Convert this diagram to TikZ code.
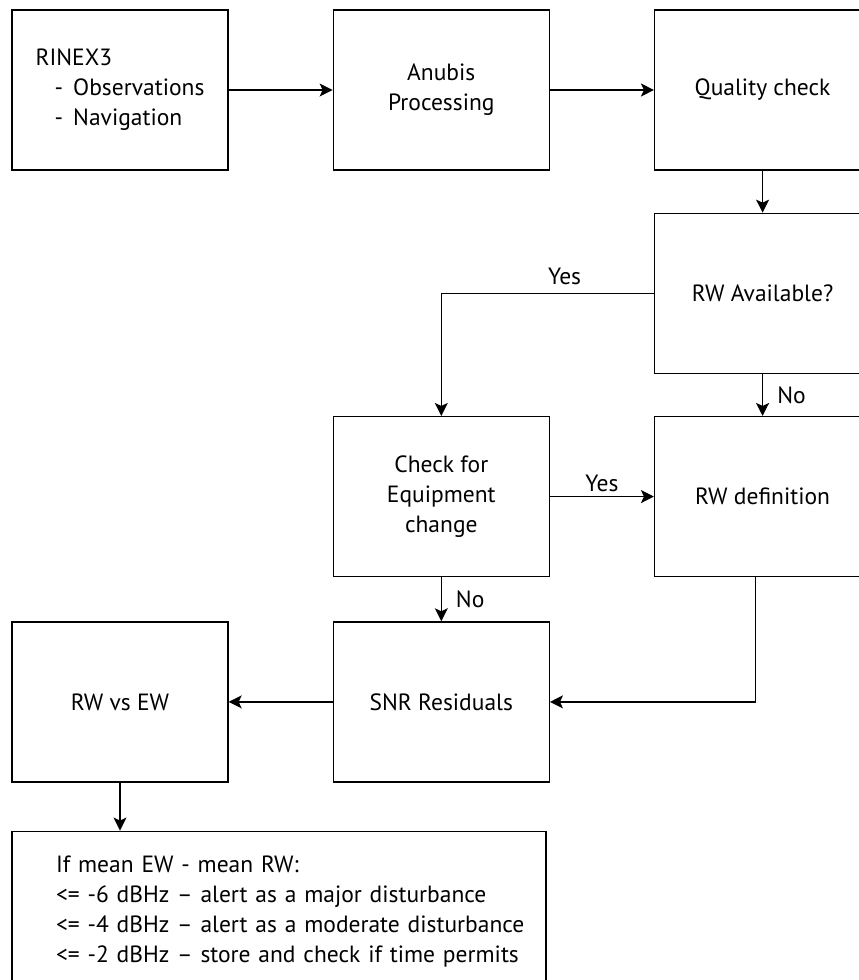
\documentclass[tikz,border=0pt]{standalone}
\usepackage{fontspec}
\setmainfont{PT Sans}
\usepackage{tikz}
\usetikzlibrary{arrows.meta,positioning}
\newcommand{\lbl}{\fontsize{23.5}{30}\selectfont}

\begin{document}
\begin{tikzpicture}[x=1pt,y=1pt,
    box/.style={draw,line width=1.3pt,minimum width=216pt,minimum height=160pt,align=center,font=\lbl,inner sep=0pt},
    arr/.style={line width=1.3pt,-{Stealth[length=13pt,width=13pt,inset=3pt]}},
    tag/.style={font=\lbl,inner sep=4pt}]
  \useasboundingbox (0,0) rectangle (859,-980);
  \node[box,align=left] (rinex) at (120,-90) {RINEX3\\\hspace*{19pt}- \,Observations\\\hspace*{19pt}- \,Navigation};
  \node[box,right=104pt of rinex] (anubis) {Anubis\\Processing};
  \node[box,right=104pt of anubis] (quality) {Quality check};
  \node[box,below=42pt of quality] (avail) {RW Available?};
  \node[box,below=42pt of avail] (rwdef) {RW definition};
  \node[box,left=104pt of rwdef] (equip) {Check for\\Equipment\\change};
  \node[box,below=44pt of equip] (snr) {SNR Residuals};
  \node[box,left=104pt of snr] (rwew) {RW vs EW};
  \node[box,below right=48pt and 0pt of rwew.south west,minimum width=534pt,text width=446pt,inner xsep=44pt,align=left] (rules)
    {\mbox{If mean EW - mean RW:}\\
     \mbox{<= -6 dBHz – alert as a major disturbance}\\
     \mbox{<= -4 dBHz – alert as a moderate disturbance}\\
     \mbox{<= -2 dBHz – store and check if time permits}\\[12pt]};

  \draw[arr] (rinex) -- (anubis);
  \draw[arr] (anubis) -- (quality);
  \draw[arr] (quality) -- (avail);
  \draw[arr] (avail.west) -| node[tag,above=4pt,pos=0.21] {Yes} (equip.north);
  \draw[arr] (avail) -- node[tag,right=10pt] {No} (rwdef);
  \draw[arr] (equip) -- node[tag,above] {Yes} (rwdef);
  \draw[arr] (equip) -- node[tag,right=10pt] {No} (snr);
  \draw[arr] ([xshift=-7pt]rwdef.south) |- (snr.east);
  \draw[arr] (snr) -- (rwew);
  \draw[arr] (rwew.south) -- (rwew.south |- rules.north);
\end{tikzpicture}
\end{document}
